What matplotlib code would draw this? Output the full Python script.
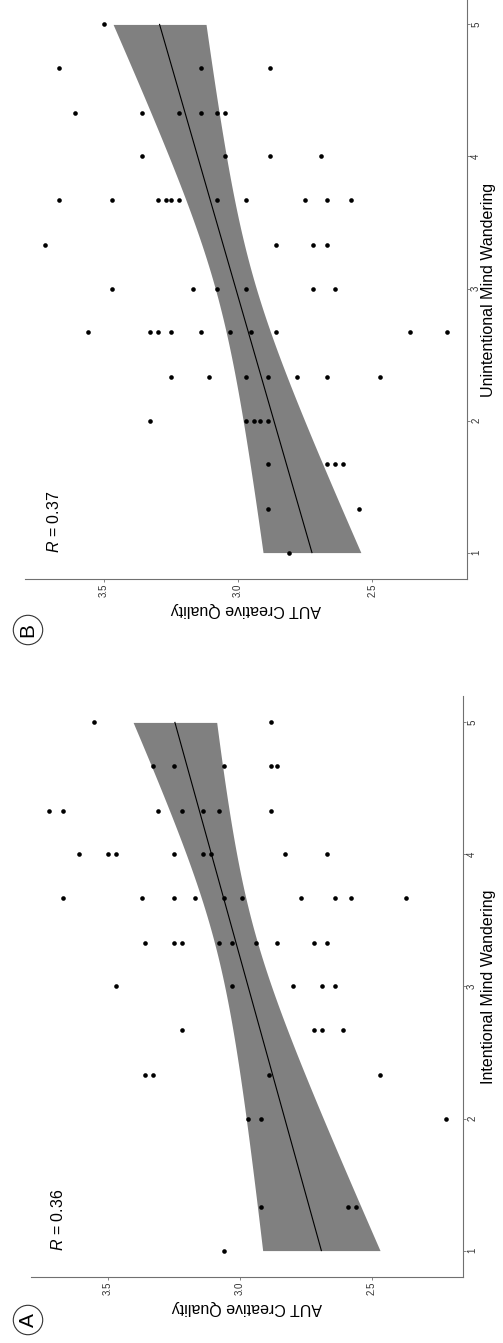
import matplotlib.pyplot as plt
import numpy as np

plt.rcParams['font.family'] = ['Liberation Sans', 'DejaVu Sans']
plt.rcParams['mathtext.fontset'] = 'custom'
plt.rcParams['mathtext.it'] = 'Liberation Sans:italic'
plt.rcParams['mathtext.rm'] = 'Liberation Sans'

# panel A: intentional mind wandering vs AUT creative quality
a_mw = [5, 5,
        4.67, 4.67, 4.67, 4.67, 4.67,
        4.33, 4.33, 4.33, 4.33, 4.33, 4.33, 4.33,
        4, 4, 4, 4, 4, 4, 4, 4,
        3.67, 3.67, 3.67, 3.67, 3.67, 3.67, 3.67, 3.67, 3.67, 3.67,
        3.33, 3.33, 3.33, 3.33, 3.33, 3.33, 3.33, 3.33, 3.33,
        3, 3, 3, 3, 3,
        2.67, 2.67, 2.67, 2.67,
        2.33, 2.33, 2.33, 2.33,
        2, 2, 2,
        1.33, 1.33, 1.33,
        1]
a_quality = [3.55, 2.88,
             3.33, 3.25, 3.06, 2.88, 2.86,
             3.72, 3.67, 3.31, 3.22, 3.14, 3.08, 2.88,
             3.61, 3.50, 3.47, 3.25, 3.14, 3.11, 2.83, 2.67,
             3.67, 3.37, 3.25, 3.17, 3.06, 2.99, 2.77, 2.64, 2.58, 2.37,
             3.36, 3.25, 3.22, 3.08, 3.03, 2.94, 2.86, 2.72, 2.67,
             3.47, 3.03, 2.80, 2.69, 2.64,
             3.22, 2.72, 2.69, 2.61,
             3.36, 3.33, 2.89, 2.47,
             2.97, 2.92, 2.22,
             2.92, 2.59, 2.56,
             3.06]

# panel B: unintentional mind wandering vs AUT creative quality
b_mw = [5,
        4.67, 4.67, 4.67,
        4.33, 4.33, 4.33, 4.33, 4.33, 4.33,
        4, 4, 4, 4,
        3.67, 3.67, 3.67, 3.67, 3.67, 3.67, 3.67, 3.67, 3.67, 3.67, 3.67,
        3.33, 3.33, 3.33, 3.33,
        3, 3, 3, 3, 3, 3,
        2.67, 2.67, 2.67, 2.67, 2.67, 2.67, 2.67, 2.67, 2.67, 2.67,
        2.33, 2.33, 2.33, 2.33, 2.33, 2.33, 2.33,
        2, 2, 2, 2, 2,
        1.67, 1.67, 1.67, 1.67,
        1.33, 1.33,
        1]
b_quality = [3.50,
             3.67, 3.14, 2.88,
             3.61, 3.36, 3.22, 3.14, 3.08, 3.05,
             3.36, 3.05, 2.88, 2.69,
             3.67, 3.47, 3.30, 3.27, 3.25, 3.22, 3.08, 2.97, 2.75, 2.67, 2.58,
             3.72, 2.86, 2.72, 2.67,
             3.47, 3.17, 3.08, 2.97, 2.72, 2.64,
             3.56, 3.33, 3.30, 3.25, 3.14, 3.03, 2.95, 2.86, 2.36, 2.22,
             3.25, 3.11, 2.97, 2.89, 2.78, 2.67, 2.47,
             3.33, 2.97, 2.94, 2.92, 2.89,
             2.89, 2.67, 2.64, 2.61,
             2.89, 2.55,
             2.81]

quality_ticks = [2.5, 3.0, 3.5]
quality_labels = ['2.5', '3.0', '3.5']
mw_ticks = [1, 2, 3, 4, 5]
axis_grey = '#707070'


def fit_band(x, y):
    x = np.asarray(x, dtype=float)
    y = np.asarray(y, dtype=float)
    n = len(x)
    slope, intercept = np.polyfit(x, y, 1)
    xs = np.linspace(x.min(), x.max(), 80)
    fit = intercept + slope * xs
    resid = y - (intercept + slope * x)
    s = np.sqrt(np.sum(resid ** 2) / (n - 2))
    se = s * np.sqrt(1 / n + (xs - x.mean()) ** 2 / np.sum((x - x.mean()) ** 2))
    return xs, fit, 2.0 * se


def draw_panel(ax, mw, quality, r_text, xlim, ylim):
    xs, fit, ci = fit_band(mw, quality)
    ax.fill_betweenx(xs, fit - ci, fit + ci, color='#808080', lw=0, zorder=1)
    ax.plot(fit, xs, color='black', lw=0.8, zorder=2)
    ax.scatter(quality, mw, s=11, color='black', lw=0, zorder=3)
    ax.set_xlim(*xlim)
    ax.set_ylim(*ylim)
    for side in ['top', 'left']:
        ax.spines[side].set_visible(False)
    for side in ['bottom', 'right']:
        ax.spines[side].set_color(axis_grey)
        ax.spines[side].set_linewidth(0.8)
    ax.yaxis.tick_right()
    ax.set_xticks(quality_ticks)
    ax.set_xticklabels(quality_labels)
    ax.set_yticks(mw_ticks)
    ax.tick_params(axis='x', labelrotation=90, labelsize=7, length=2, width=0.6,
                   color=axis_grey, pad=1, labelcolor='#333333')
    ax.tick_params(axis='y', labelrotation=90, labelsize=7, length=2, width=0.6,
                   color=axis_grey, pad=1, labelcolor='#333333')
    for lab in ax.get_yticklabels():
        lab.set_verticalalignment('center')
    ax.text(3.686, 1.0, r_text, rotation=90, ha='center', va='bottom', fontsize=11.5)


fig = plt.figure(figsize=(5.03, 13.43), dpi=100)
H = 1343
W = 503

axA = fig.add_axes([31 / W, 1 - 1277 / H, (463 - 31) / W, (1277 - 696) / H])
draw_panel(axA, a_mw, a_quality, r'$R$ = 0.36', (3.79, 2.155), (0.8, 5.2))

axB = fig.add_axes([25 / W, 1 - 579 / H, (467 - 25) / W, 579 / H])
draw_panel(axB, b_mw, b_quality, r'$R$ = 0.37', (3.795, 2.146), (0.8, 5.185))

# axis titles (figure is turned a quarter turn)
fig.text(247 / W, 1 - 1308 / H, 'AUT Creative Quality', rotation=180,
         ha='center', va='center', fontsize=11.5)
fig.text(246 / W, 1 - 610 / H, 'AUT Creative Quality', rotation=180,
         ha='center', va='center', fontsize=11.5)
fig.text(488 / W, 1 - 987 / H, 'Intentional Mind Wandering', rotation=90,
         ha='center', va='center', fontsize=11.5)
fig.text(488 / W, 1 - 290 / H, 'Unintentional Mind Wandering', rotation=90,
         ha='center', va='center', fontsize=11.5)

# panel letters in circles
for letter, yc in [('A', 1320), ('B', 630)]:
    fig.text(28 / W, 1 - yc / H, letter, rotation=90, ha='center', va='center',
             fontsize=15,
             bbox=dict(boxstyle='circle,pad=0.25', fc='white', ec='#333333', lw=0.8))

fig.savefig('out.png', dpi=100)
